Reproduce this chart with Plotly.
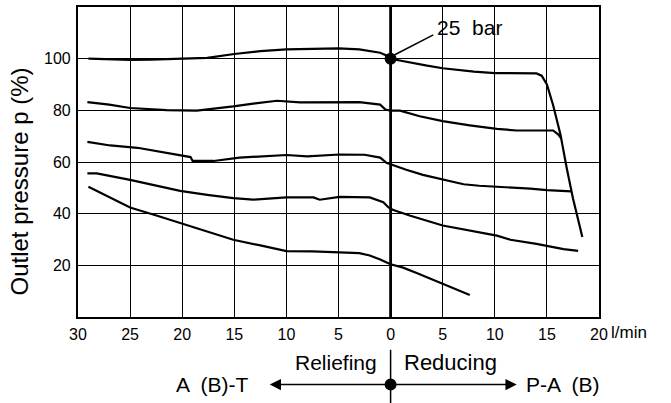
import plotly.graph_objects as go

# x: negative = relieving flow A(B)->T (l/min), positive = reducing flow P->A(B)
x_tick_vals = [-30, -25, -20, -15, -10, -5, 0, 5, 10, 15, 20]
x_tick_text = ["30", "25", "20", "15", "10", "5", "0", "5", "10", "15", "20"]
y_tick_vals = [20, 40, 60, 80, 100]
y_tick_text = ["20", "40", "60", "80", "100"]

x1 = [-29, -27, -25, -23, -21, -19, -17.6, -15, -12.5, -10, -7, -5, -3, -1, -0.4, 0, 1, 2, 3.5, 5, 6.5, 8, 10, 12, 14, 14.5, 15, 15.6, 16.3, 16.9, 17.5, 18.4]
y1 = [100, 99.8, 99.5, 99.6, 99.8, 100, 100.3, 101.8, 102.9, 103.6, 104, 104, 103.6, 102.3, 101.2, 100, 99.2, 98.4, 97.3, 96.3, 95.6, 95, 94.4, 94.3, 94.3, 93.4, 90, 82, 70.7, 57.7, 46, 31]

x2 = [-29.1, -27, -25, -23, -21.5, -18.6, -17, -15.1, -13, -10.9, -8.7, -6, -3, -1, -0.5, 0, 0.9, 2.8, 5, 7.6, 10.2, 12.1, 14, 15.6, 16.1, 16.4]
y2 = [83.2, 82.2, 80.9, 80.4, 80.1, 79.9, 80.5, 81.5, 82.7, 83.7, 83.1, 83.2, 83.2, 82.2, 80.3, 79.9, 79.9, 77.7, 75.8, 74.2, 72.8, 72.2, 72.2, 72.2, 70.6, 69]

x3 = [-29.1, -26.9, -24.3, -21.5, -19.2, -19, -17, -14.5, -12, -10, -8, -4.9, -2.5, -1, -0.4, 0.2, 1.5, 3.1, 5, 7, 8.5, 10.2, 13.4, 15, 16.9, 17.35]
y3 = [67.8, 66.4, 65.5, 63.6, 61.9, 60.4, 60.4, 61.7, 62.3, 62.7, 62.2, 62.9, 62.8, 61.7, 59.7, 58.8, 57, 55, 53.3, 51.4, 50.8, 50.5, 49.7, 49.1, 48.8, 48.6]

x4 = [-29.1, -28.2, -25, -21.5, -20.2, -17.6, -15.1, -13.2, -10, -7.4, -6.8, -4.9, -2, -0.7, -0.2, 0.2, 1.9, 5, 7.6, 10.2, 11.5, 14, 16.6, 18]
y4 = [55.6, 55.6, 53.1, 49.9, 48.8, 47.3, 46, 45.4, 46.3, 46.3, 45.4, 46.5, 46.3, 44.4, 42.4, 41.5, 39.2, 35.4, 33.5, 31.5, 29.9, 28.3, 26.3, 25.6]

x5 = [-29, -26.4, -25, -22.4, -19.9, -17.5, -15.1, -12.5, -10, -7.5, -4.9, -3, -2, -1, 0, 1.2, 2.5, 3.8, 5, 6.3, 7.6]
y5 = [50.4, 45, 42.4, 39.2, 36, 32.9, 29.9, 27.7, 25.5, 25.4, 25.1, 24.7, 23.8, 22.3, 20.4, 19.1, 17, 14.9, 13, 10.8, 8.5]

ref_point_x = [0]
ref_point_y = [100]

TXT = "Liberation Sans, Arial, sans-serif"

fig = go.Figure()
for xs, ys in [(x1, y1), (x2, y2), (x3, y3), (x4, y4), (x5, y5)]:
    fig.add_trace(go.Scatter(x=xs, y=ys, mode="lines",
                             line=dict(color="black", width=2.2),
                             showlegend=False, hoverinfo="skip"))
fig.add_trace(go.Scatter(x=ref_point_x, y=ref_point_y, mode="markers",
                         marker=dict(color="black", size=12),
                         showlegend=False, hoverinfo="skip"))

axis_common = dict(showline=True, linecolor="black", linewidth=2.2, mirror=True,
                   showgrid=True, gridcolor="black", gridwidth=1.3, zeroline=False,
                   ticks="outside", ticklen=2, tickcolor="rgba(0,0,0,0)",
                   tickfont=dict(family=TXT, size=16, color="black"))

fig.update_layout(
    width=671, height=403,
    margin=dict(l=78, r=72, t=5, b=86),
    plot_bgcolor="white", paper_bgcolor="white",
    xaxis=dict(range=[-30, 20], tickmode="array", tickvals=x_tick_vals,
               ticktext=x_tick_text, **axis_common),
    yaxis=dict(range=[0, 120], tickmode="array", tickvals=y_tick_vals,
               ticktext=y_tick_text, **axis_common),
)


def py(p):
    return (317 - p) / 312


# thick zero line
fig.add_shape(type="line", x0=0, x1=0, y0=0, y1=120, xref="x", yref="y",
              line=dict(color="black", width=2.8))
# leader line for 25 bar
fig.add_shape(type="line", x0=0.4, y0=101.5, x1=4.1, y1=109.2, xref="x", yref="y",
              line=dict(color="black", width=1.5))
fig.add_annotation(x=7.6, y=112, xref="x", yref="y", text="25  bar", showarrow=False,
                   xanchor="center", yanchor="middle",
                   font=dict(family=TXT, size=21, color="black"))

# y title
fig.add_annotation(x=-0.112, y=py(181), xref="paper", yref="paper",
                   xanchor="center", yanchor="middle",
                   text="Outlet pressure p (%)", textangle=-90, showarrow=False,
                   font=dict(family=TXT, size=24, color="black"))
# unit
fig.add_annotation(x=1.02, y=py(333), xref="paper", yref="paper",
                   xanchor="left", yanchor="middle",
                   text="l/min", showarrow=False,
                   font=dict(family=TXT, size=17, color="black"))

# bottom direction legend
yl = py(385)
fig.add_shape(type="line", x0=0, x1=0, xref="x", yref="paper",
              y0=py(350), y1=py(405),
              line=dict(color="black", width=1.5))
fig.add_shape(type="circle", xref="x", yref="paper", xsizemode="pixel", ysizemode="pixel",
              xanchor=0, yanchor=yl, x0=-6, x1=6, y0=-6, y1=6,
              fillcolor="black", line=dict(color="black", width=0))
fig.add_annotation(x=-11.6, y=yl, xref="x", yref="paper", ax=121, ay=0, text="",
                   showarrow=True, arrowhead=2, arrowsize=1.5, arrowwidth=1.5,
                   arrowcolor="black")
fig.add_annotation(x=12.1, y=yl, xref="x", yref="paper", ax=-127, ay=0, text="",
                   showarrow=True, arrowhead=2, arrowsize=1.5, arrowwidth=1.5,
                   arrowcolor="black")
fig.add_annotation(x=-1.1, y=py(363), xref="x", yref="paper",
                   xanchor="right", yanchor="middle",
                   text="Reliefing", showarrow=False,
                   font=dict(family=TXT, size=21, color="black"))
fig.add_annotation(x=1.1, y=py(363), xref="x", yref="paper",
                   xanchor="left", yanchor="middle",
                   text="Reducing", showarrow=False,
                   font=dict(family=TXT, size=22, color="black"))
fig.add_annotation(x=-13.4, y=yl, xref="x", yref="paper",
                   xanchor="right", yanchor="middle",
                   text="A  (B)-T", showarrow=False,
                   font=dict(family=TXT, size=21, color="black"))
fig.add_annotation(x=12.8, y=yl, xref="x", yref="paper",
                   xanchor="left", yanchor="middle",
                   text="P-A  (B)", showarrow=False,
                   font=dict(family=TXT, size=21, color="black"))

fig.write_html("out.html")
